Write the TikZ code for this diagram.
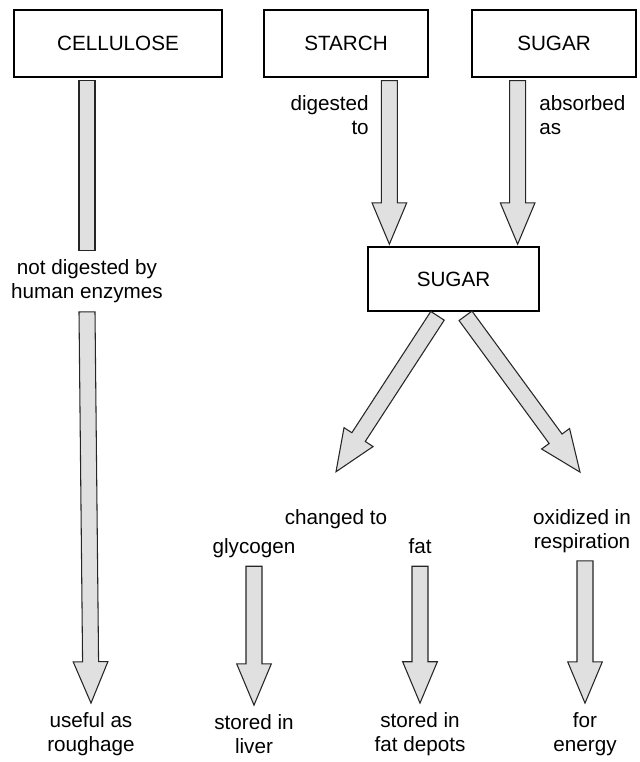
\documentclass[tikz,border=0pt]{standalone}
\usepackage{fontspec}
\setmainfont{Liberation Sans}
\usetikzlibrary{calc}

% sizes of the hollow arrows
\def\shaftw{6pt}
\def\headw{13pt}
\def\headlen{31pt}

% shaft only, from #1 to #2
\newcommand{\blockshaft}[2]{%
  \filldraw[hollow] ($(#1)!\shaftw!90:(#2)$) -- ($(#2)!\shaftw!-90:(#1)$)
    -- ($(#2)!\shaftw!90:(#1)$) -- ($(#1)!\shaftw!-90:(#2)$) -- cycle;
}
% shaft with an open head, tip at #2
\newcommand{\blockarrow}[2]{%
  \coordinate (neck) at ($(#2)!\headlen!(#1)$);
  \filldraw[hollow] ($(#1)!\shaftw!90:(#2)$) -- ($(neck)!\shaftw!-90:(#1)$)
    -- ($(neck)!\headw!-90:(#1)$) -- (#2) -- ($(neck)!\headw!90:(#1)$)
    -- ($(neck)!\shaftw!90:(#1)$) -- ($(#1)!\shaftw!-90:(#2)$) -- cycle;
}

\tikzset{
  txt/.style={align=center, inner sep=0pt, font=\fontsize{15.5}{18}\selectfont},
  word/.style={txt, text height=11.5pt, text depth=3.5pt},
  box/.style={txt, draw, line width=1.2pt, minimum height=50pt},
  hollow/.style={draw=black!85, line width=0.8pt, fill=black!12, line join=miter},
}

\begin{document}
\begin{tikzpicture}[x=0.75pt, y=-0.75pt]
\useasboundingbox (0,0) rectangle (639,762);

% Foods at the top
\node[box, minimum width=156pt] (cellulose) at (118,43.5) {CELLULOSE};
\node[box, minimum width=123pt] (starch) at (346,43.5) {STARCH};
\node[box, minimum width=123pt] (sugartop) at (554,43.5) {SUGAR};
\node[box, minimum width=128pt, minimum height=48pt] (sugar) at (453.5,279) {SUGAR};

% Labels along the way
\node[txt] (notdig) at (87,281) {not digested by\\human enzymes};
\node[txt, anchor=east, align=right] (digested) at (369,115) {digested\\to};
\node[txt, anchor=west, align=left] (absorbed) at (539,115) {absorbed\\as};
\node[word] (changed) at (336,519) {changed to};
\node[txt] (oxid) at (582,531) {oxidized in\\respiration};
\node[word] (glycogen) at (254,548) {glycogen};
\node[word] (fat) at (420,548) {fat};

% What happens at the end
\node[txt] (roughage) at (91,734) {useful as\\roughage};
\node[txt] (liver) at (254,734) {stored in\\liver};
\node[txt] (depots) at (420,734) {stored in\\fat depots};
\node[txt] (energy) at (585,734) {for\\energy};

% Cellulose goes straight through
\coordinate (c1) at ($(notdig.north |- cellulose.south)+(0,3)$);
\coordinate (c2) at ($(notdig.north)+(0,-9)$);
\blockshaft{c1}{c2}
\coordinate (c3) at ($(notdig.south)+(0,9)$);
\coordinate (c4) at ($(roughage.north)+(0,-9)$);
\blockarrow{c3}{c4}

% Starch and sugar end up as sugar
\coordinate (t1) at ($(sugar.north west)+(22,-2)$);
\coordinate (t2) at ($(sugar.north east)+(-22,-2)$);
\coordinate (s1) at ($(t1 |- starch.south)+(0,3)$);
\coordinate (s2) at ($(t2 |- sugartop.south)+(0,3)$);
\blockarrow{s1}{t1}
\blockarrow{s2}{t2}

% Sugar splits in two
\coordinate (d1) at ($(sugar.south)+(-16,4)$);
\coordinate (d2) at ($(sugar.south)+(12,4)$);
\coordinate (e1) at ($(changed.north)+(0,-37)$);
\coordinate (e2) at ($(oxid.north)+(-2,-37)$);
\blockarrow{d1}{e1}
\blockarrow{d2}{e2}

% Last step down
\coordinate (g1) at ($(glycogen.south)+(0,8)$);
\coordinate (g2) at ($(liver.north)+(0,-9)$);
\blockarrow{g1}{g2}
\coordinate (f1) at ($(fat.south)+(0,8)$);
\coordinate (f2) at ($(depots.north)+(0,-9)$);
\blockarrow{f1}{f2}
\coordinate (o1) at ($(energy.north |- oxid.south)+(0,8)$);
\coordinate (o2) at ($(energy.north)+(0,-9)$);
\blockarrow{o1}{o2}

\end{tikzpicture}
\end{document}
